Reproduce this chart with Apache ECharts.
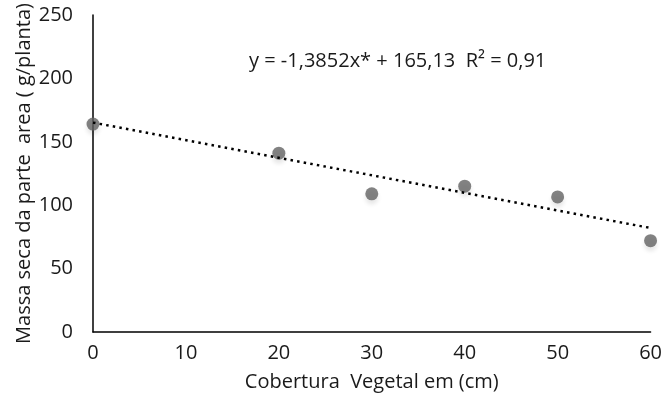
<!DOCTYPE html>
<html>
<head>
<meta charset="utf-8">
<script src="https://cdn.jsdelivr.net/npm/echarts@6/dist/echarts.min.js"></script>
<style>
  html, body { margin: 0; padding: 0; background: #fff; }
  #chart { width: 665px; height: 401px; }
</style>
</head>
<body>
<div id="chart"></div>
<script>
// dados
const cobertura = [0, 20, 30, 40, 50, 60];
const massaSeca = [164, 141, 109, 115, 106.5, 72];
// linha de tendência (extremos)
const tendX = [0, 60];
const tendY = [165.13, 82.02];
const equacao = 'y = -1,3852x* + 165,13  R² = 0,91';

const fonte = 'Open Sans, Noto Sans, sans-serif';
const tam = 20;

const chart = echarts.init(document.getElementById('chart'));

const option = {
    animation: false,
    grid: { left: 93, right: 13, top: 15, bottom: 69 },
    xAxis: {
        type: 'value',
        min: 0,
        max: 60,
        interval: 10,
        name: 'Cobertura  Vegetal em (cm)',
        nameLocation: 'middle',
        nameGap: 40,
        nameMoveOverlap: false,
        nameTextStyle: { fontSize: tam, color: '#1a1a1a', fontFamily: fonte },
        axisLine: { lineStyle: { color: '#000', width: 1.5 } },
        axisTick: { show: false },
        splitLine: { show: false },
        axisLabel: { fontSize: tam, color: '#1a1a1a', fontFamily: fonte, margin: 11 }
    },
    yAxis: {
        type: 'value',
        min: 0,
        max: 250,
        interval: 50,
        name: 'Massa seca da parte  area ( g/planta)',
        nameLocation: 'middle',
        nameGap: 59,
        nameMoveOverlap: false,
        nameTextStyle: { fontSize: tam, color: '#1a1a1a', fontFamily: fonte },
        axisLine: { show: true, lineStyle: { color: '#000', width: 1.5 } },
        axisTick: { show: false },
        splitLine: { show: false },
        axisLabel: { fontSize: tam, color: '#1a1a1a', fontFamily: fonte, margin: 20 }
    },
    graphic: [{
        type: 'text',
        left: 249,
        top: 51,
        style: { text: equacao, fontSize: tam, fill: '#1a1a1a', fontFamily: fonte }
    }],
    series: [
        {
            type: 'line',
            data: tendX.map((x, i) => [x, tendY[i]]),
            symbol: 'none',
            lineStyle: { color: '#000', width: 2.5, type: [2.5, 4.2] },
            z: 3
        },
        {
            type: 'scatter',
            data: cobertura.map((x, i) => [x, massaSeca[i]]),
            symbolSize: 13,
            itemStyle: {
                color: '#636363',
                shadowColor: 'rgba(0,0,0,0.12)',
                shadowBlur: 4,
                shadowOffsetY: 4
            },
            z: 2
        }
    ]
};

chart.setOption(option);
</script>
</body>
</html>
